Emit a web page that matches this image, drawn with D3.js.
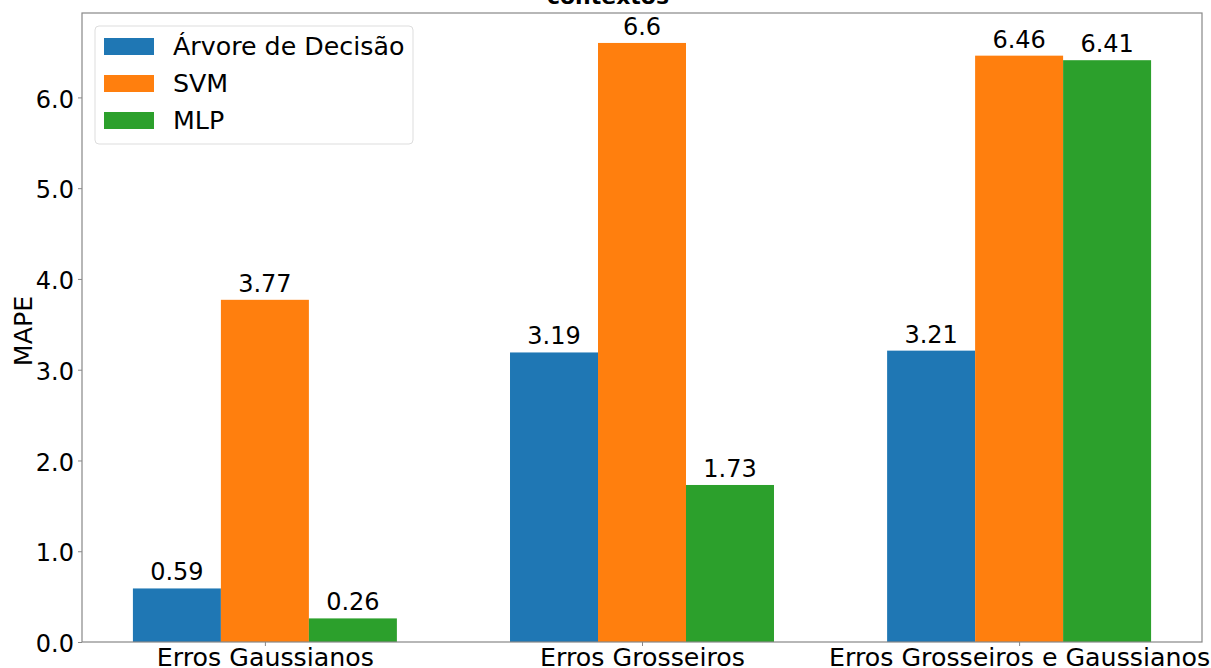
<!DOCTYPE html>
<html><head><meta charset="utf-8">
<script src="https://cdn.jsdelivr.net/npm/d3@7"></script>
<style>body{margin:0;background:#fff;}svg{display:block;font-family:"DejaVu Sans",sans-serif;}</style>
</head><body>
<svg id="c" width="1211" height="668"></svg>
<script>
const categories = ["Erros Gaussianos", "Erros Grosseiros", "Erros Grosseiros e Gaussianos"];
const seriesNames = ["Árvore de Decisão", "SVM", "MLP"];
const arvore = [0.59, 3.19, 3.21];
const svm = [3.77, 6.6, 6.46];
const mlp = [0.26, 1.73, 6.41];
const yTicks = [0, 1, 2, 3, 4, 5, 6];
const colors = ["#1f77b4", "#ff7f0e", "#2ca02c"];
const series = [arvore, svm, mlp];

const L = 82, R = 1202, T = 13, B = 642;
const svg = d3.select("#c");
const fsNum = 24, fsTxt = 25.3;
const barW = 0.7 / 3;
const x = d3.scaleLinear().domain([-0.485, 2.485]).range([L, R]);
const y = d3.scaleLinear().domain([0, 6.93]).range([B, T]);

// title (cut off at the top edge, as in the reference)
svg.append("text").attr("x", 608).attr("y", 4).attr("text-anchor", "middle")
  .attr("font-size", 22).attr("font-weight", "bold").text("contextos");

// bars
series.forEach((vals, si) => {
  const g = svg.append("g");
  vals.forEach((v, ci) => {
    const cx = ci + (si - 1) * barW;
    g.append("rect").attr("x", x(cx - barW / 2)).attr("width", x(cx + barW / 2) - x(cx - barW / 2))
      .attr("y", y(v)).attr("height", y(0) - y(v)).attr("fill", colors[si]);
    g.append("text").attr("x", x(cx)).attr("y", y(v) - 8).attr("text-anchor", "middle")
      .attr("font-size", fsNum).attr("fill", "#000").text(String(v));
  });
});

// axes
const yAxis = d3.axisLeft(y).tickValues(yTicks).tickFormat(d3.format(".1f")).tickSize(4).tickPadding(4);
const ya = svg.append("g").attr("transform", `translate(${L},0)`).call(yAxis);
ya.select(".domain").remove();
ya.selectAll("text").attr("font-size", fsNum).attr("font-family", "DejaVu Sans").attr("fill", "#000").attr("dy", "0.4em");
ya.selectAll("line").attr("stroke", "#888");

const xAxis = d3.axisBottom(x).tickValues([0, 1, 2]).tickFormat(i => categories[i]).tickSize(4).tickPadding(3);
const xa = svg.append("g").attr("transform", `translate(0,${B})`).call(xAxis);
xa.select(".domain").remove();
xa.selectAll("text").attr("font-size", fsTxt).attr("font-family", "DejaVu Sans").attr("fill", "#000")
  .attr("dy", null).attr("y", 24);
xa.selectAll("line").attr("stroke", "#888");

// frame
svg.append("rect").attr("x", L).attr("y", T).attr("width", R - L).attr("height", B - T)
  .attr("fill", "none").attr("stroke", "#888").attr("stroke-width", 1.2);

// y label
svg.append("text").attr("transform", `translate(32,331) rotate(-90)`)
  .attr("text-anchor", "middle").attr("font-size", fsTxt).text("MAPE");

// legend
const lg = svg.append("g");
lg.append("rect").attr("x", 95).attr("y", 26).attr("width", 318).attr("height", 118).attr("rx", 4)
  .attr("fill", "#fff").attr("fill-opacity", 0.8).attr("stroke", "#ddd");
seriesNames.forEach((n, i) => {
  lg.append("rect").attr("x", 104).attr("y", 38 + i * 37).attr("width", 50).attr("height", 17).attr("fill", colors[i]);
  lg.append("text").attr("x", 173).attr("y", 46.5 + i * 37).attr("dominant-baseline", "central")
    .attr("font-size", fsTxt).text(n);
});
</script>
</body></html>
